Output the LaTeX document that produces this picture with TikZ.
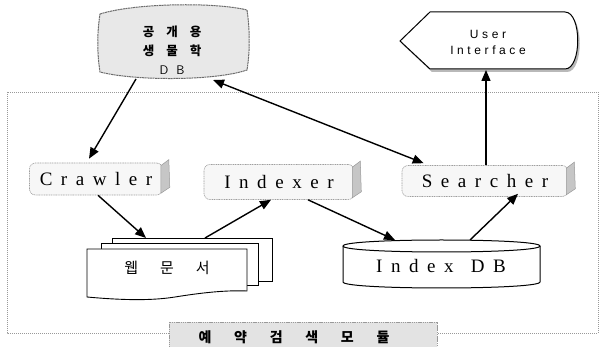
\documentclass[tikz,border=0pt]{standalone}
\usepackage{fontspec}
\setmainfont{Liberation Serif}
\newfontfamily\lsserif[LetterSpace=45]{Liberation Serif}
\newfontfamily\lssans[LetterSpace=30]{Liberation Sans}
\newfontfamily\kr{Noto Sans CJK KR}
\usetikzlibrary{arrows.meta,calc}
\newcommand{\kc}[1]{\makebox[35.6pt]{#1}}
\tikzset{
  procbox/.style={draw=gray!75, line width=0.6pt, dash pattern=on 1pt off 0.7pt, fill=gray!6,
    rounded corners=6pt, inner sep=0pt, font=\lsserif\fontsize{19}{21}\selectfont},
  sideface/.style={fill=gray!45, draw=gray!80, line width=0.5pt},
  arr/.style={line width=1.4pt, -{Triangle[length=11pt,width=9pt]}},
  darr/.style={line width=1.4pt, {Triangle[length=11pt,width=9pt]}-{Triangle[length=11pt,width=9pt]}},
  page/.style={draw=black, line width=0.9pt, fill=white},
  lbl/.style={inner sep=0pt}
}
\begin{document}
\begin{tikzpicture}[x=1pt,y=-1pt]
\useasboundingbox (0,0) rectangle (606,347);
\fill[white] (0,0) rectangle (606,347);

% outer dotted frame
\draw[gray!80, line width=0.7pt, dash pattern=on 1pt off 1pt] (7,92) rectangle (598,333);

% bottom label
\draw[gray!80, fill=gray!22, line width=0.8pt, dash pattern=on 1.5pt off 0.7pt] (169,322) rectangle (437,352);
\node[lbl, font=\kr\bfseries\fontsize{14}{16}\selectfont] (module) at (294,337)
  {\kc{예}\kc{약}\kc{검}\kc{색}\kc{모}\kc{듈}};

% top DB (public biology DB)
\draw[gray!85!black, fill=gray!18, line width=1pt, dash pattern=on 2pt off 0.6pt]
  (100,14) .. controls (135,3) and (215,2) .. (247,10)
  .. controls (250,30) and (250,52) .. (247,70)
  .. controls (215,81) and (135,81) .. (100,72)
  .. controls (97,52) and (97,34) .. cycle;
\node[lbl, align=center, font=\kr\bfseries\fontsize{12.5}{19}\selectfont] (pubdb) at (172,50)
  {공\hspace{12pt}개\hspace{12pt}용\\생\hspace{12pt}물\hspace{12pt}학\\{\sffamily\mdseries D\hspace{8pt}B}};
\coordinate (dbsw) at (136,79);
\coordinate (dbse) at (213,80);

% User interface (display shape)
\fill[gray!55] (402,44) -- (432,15) -- (567,15) .. controls (584,15) and (584,72) .. (567,72) -- (432,72) -- cycle;
\draw[black, line width=1pt, fill=white] (400,41) -- (430,12) -- (565,12) .. controls (582,12) and (582,69) .. (565,69) -- (430,69) -- cycle;
\node[lbl, align=center, font=\lssans\fontsize{12}{16}\selectfont] (ui) at (488,42) {User\\Interface};
\coordinate (uibot) at (486,70);

% process boxes
\node[procbox, minimum width=133pt, minimum height=32pt] (crawler) at (96,179) {Crawler};
\node[procbox, minimum width=150pt, minimum height=35pt] (indexer) at (279,182) {Indexer};
\node[procbox, minimum width=166pt, minimum height=31pt] (searcher) at (485,181) {Searcher};
\foreach \b in {crawler,indexer,searcher}{
  \draw[sideface] ($(\b.north east)+(-2,3)$) -- ($(\b.north east)+(6,-3)$)
    -- ($(\b.south east)+(7,-8)$) -- ($(\b.south east)+(-2,-2)$) -- cycle;
}

% web documents
\draw[page] (112,238) rectangle (272,281);
\draw[page] (101,243) rectangle (258,285);
\draw[page] (87,297) -- (87,249) -- (247,249) -- (247,291)
  .. controls (225,290) and (200,293) .. (175,297) .. controls (150,301) and (120,300) .. (87,297) -- cycle;
\node[lbl, font=\kr\fontsize{15}{17}\selectfont] (webdocs) at (167,268) {웹\hspace{22pt}문\hspace{22pt}서};
\coordinate (docstop) at (146,238);
\coordinate (docsout) at (205,238);

% Index DB cylinder
\draw[black, line width=1pt, fill=white] (343,246) -- (343,282) .. controls (343,290) and (540,290) .. (540,282) -- (540,246)
  .. controls (540,238) and (343,238) .. (343,246) -- cycle;
\draw[black, line width=1pt] (343,246) .. controls (343,254) and (540,254) .. (540,246);
\node[lbl, font=\lsserif\fontsize{19}{21}\selectfont] (indexdb) at (441,266) {Index\hspace{4pt} DB};
\coordinate (idbin) at (395,240);
\coordinate (idbout) at (470,240);

% connectors
\draw[arr] (dbsw) -- ($(crawler.north)+(-7,-4)$);
\draw[darr] (dbse) -- ($(searcher.north west)+(22,-2)$);
\draw[arr] (searcher.north -| uibot) -- (uibot);
\draw[arr] ($(crawler.south)+(2,0)$) -- (docstop);
\draw[arr] (docsout) -- ($(indexer.south)+(-8,0)$);
\draw[arr] ($(indexer.south)+(29,0)$) -- (idbin);
\draw[arr] (idbout) -- ($(searcher.south)+(33,-3)$);
\end{tikzpicture}
\end{document}
